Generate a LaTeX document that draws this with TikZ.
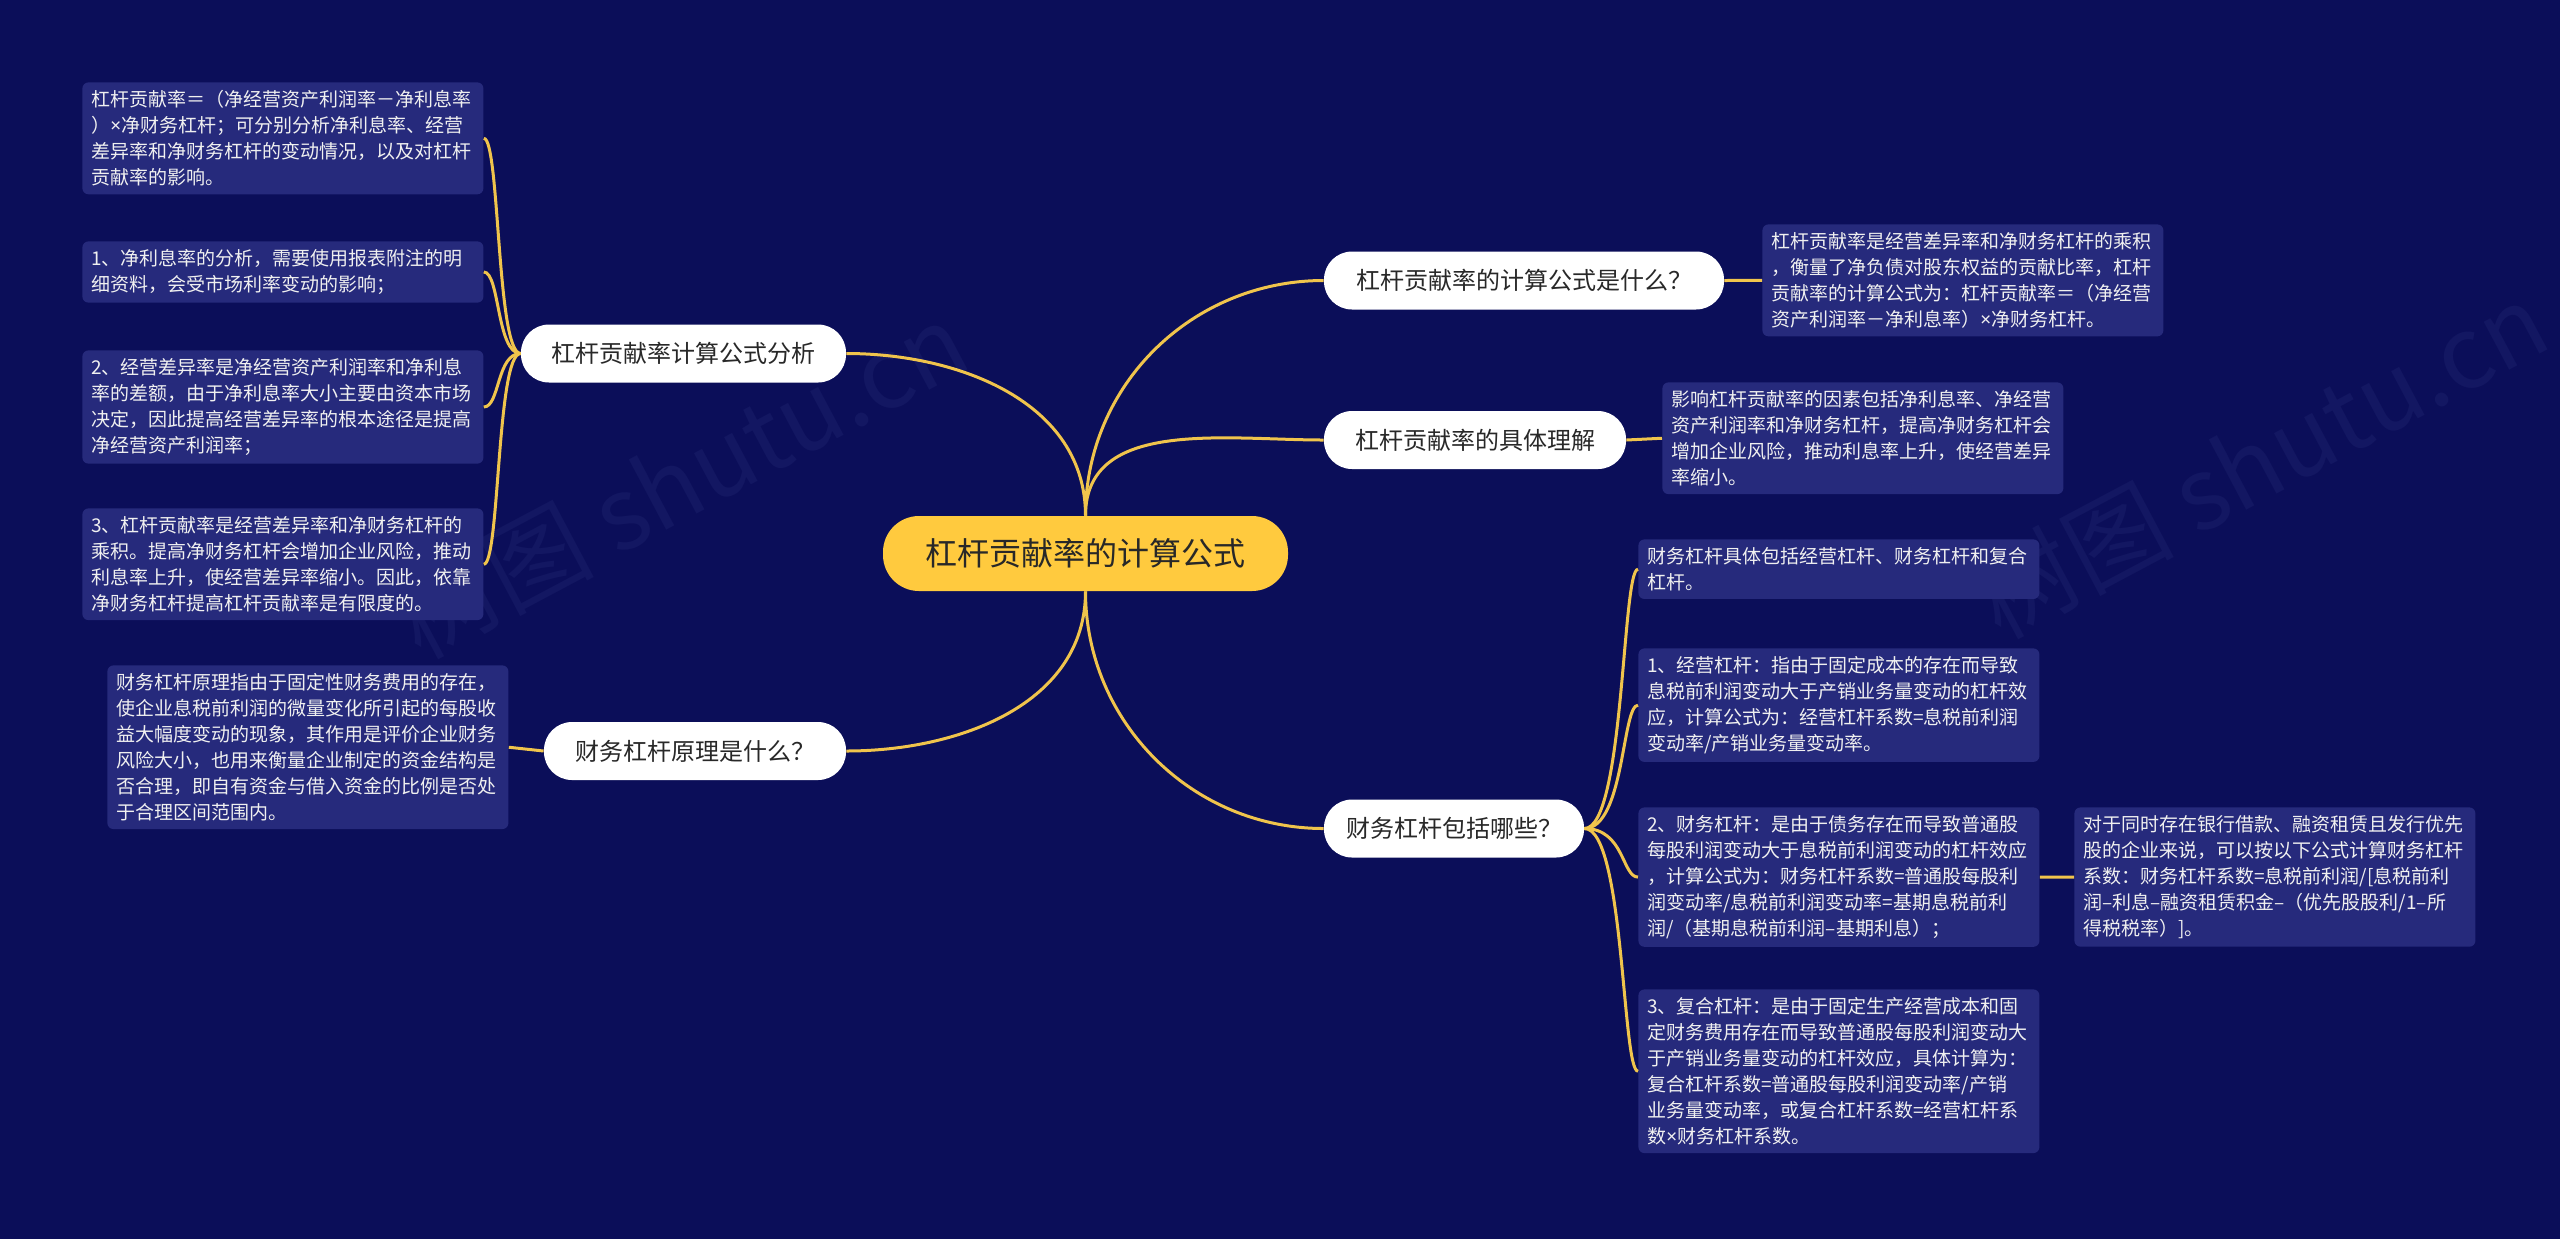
\documentclass[tikz,border=0pt]{standalone}
\usepackage{fontspec}
\setmainfont{Noto Sans CJK SC}
\newfontfamily\latinnarrow{Noto Sans}
\newcommand{\xtimes}{{\latinnarrow ×}}
\definecolor{bgc}{RGB}{11,14,89}
\definecolor{leafc}{RGB}{38,42,124}
\definecolor{linec}{RGB}{240,196,76}
\definecolor{goldc}{RGB}{255,202,62}
\definecolor{wmc}{RGB}{19,23,98}
\definecolor{darkt}{RGB}{40,40,40}
\tikzset{
  leaf/.style={anchor=north west, fill=leafc, rounded corners=3pt, text=white!94!black,
    text width=191.5pt, inner xsep=4.5pt, inner ysep=4pt, align=left,
    font=\fontsize{9.5}{13}\selectfont},
  branch/.style={fill=white, rounded corners=14pt, text=darkt, minimum height=29pt,
    inner sep=0pt, font=\fontsize{12}{14}\selectfont},
  centre/.style={fill=goldc, rounded corners=18pt, text=darkt, minimum height=37.5pt,
    minimum width=202.5pt, inner sep=0pt, font=\fontsize{16}{18}\selectfont},
  conn/.style={draw=linec, line width=1.5pt},
  wm/.style={text=wmc, font=\fontsize{50}{50}\selectfont, rotate=28}
}
\begin{document}
\begin{tikzpicture}[x=0.5pt,y=-0.5pt]
\fill[bgc] (0,0) rectangle (2560,1239);
\useasboundingbox (0,0) rectangle (2560,1239);
% watermarks
\node[wm] (wm1) at (680,480) {树图 shutu.cn};
\node[wm] (wm2) at (2260,460) {树图 shutu.cn};
% centre
\node[centre] (c) at (1085.5,553.5) {杠杆贡献率的计算公式};
% branches
\node[branch, minimum width=200pt] (b1) at (1524,280.5) {杠杆贡献率的计算公式是什么？};
\node[branch, minimum width=151pt] (b2) at (1475,440) {杠杆贡献率的具体理解};
\node[branch, minimum width=130pt] (b3) at (1454,828.5) {财务杠杆包括哪些？};
\node[branch, minimum width=162.5pt] (l1) at (683.5,353.5) {杠杆贡献率计算公式分析};
\node[branch, minimum width=151pt] (l2) at (695,751) {财务杠杆原理是什么？};
% left leaves
\node[leaf] (la) at (82,82) {杠杆贡献率＝（净经营资产利润率－净利息率\\）\xtimes 净财务杠杆；可分别分析净利息率、经营\\差异率和净财务杠杆的变动情况，以及对杠杆\\贡献率的影响。};
\node[leaf] (lb) at (82,241) {1、净利息率的分析，需要使用报表附注的明\\细资料，会受市场利率变动的影响；};
\node[leaf] (lc) at (82,350) {2、经营差异率是净经营资产利润率和净利息\\率的差额，由于净利息率大小主要由资本市场\\决定，因此提高经营差异率的根本途径是提高\\净经营资产利润率；};
\node[leaf] (ld) at (82,508) {3、杠杆贡献率是经营差异率和净财务杠杆的\\乘积。提高净财务杠杆会增加企业风险，推动\\利息率上升，使经营差异率缩小。因此，依靠\\净财务杠杆提高杠杆贡献率是有限度的。};
\node[leaf] (le) at (107,665) {财务杠杆原理指由于固定性财务费用的存在，\\使企业息税前利润的微量变化所引起的每股收\\益大幅度变动的现象，其作用是评价企业财务\\风险大小，也用来衡量企业制定的资金结构是\\否合理，即自有资金与借入资金的比例是否处\\于合理区间范围内。};
% right leaves
\node[leaf] (ra) at (1762,224) {杠杆贡献率是经营差异率和净财务杠杆的乘积\\，衡量了净负债对股东权益的贡献比率，杠杆\\贡献率的计算公式为：杠杆贡献率＝（净经营\\资产利润率－净利息率）\xtimes 净财务杠杆。};
\node[leaf] (rb) at (1662,382) {影响杠杆贡献率的因素包括净利息率、净经营\\资产利润率和净财务杠杆，提高净财务杠杆会\\增加企业风险，推动利息率上升，使经营差异\\率缩小。};
\node[leaf] (rc) at (1638,539) {财务杠杆具体包括经营杠杆、财务杠杆和复合\\杠杆。};
\node[leaf] (rd) at (1638,648) {1、经营杠杆：指由于固定成本的存在而导致\\息税前利润变动大于产销业务量变动的杠杆效\\应，计算公式为：经营杠杆系数=息税前利润\\变动率/产销业务量变动率。};
\node[leaf] (re) at (1638,807) {2、财务杠杆：是由于债务存在而导致普通股\\每股利润变动大于息税前利润变动的杠杆效应\\，计算公式为：财务杠杆系数=普通股每股利\\润变动率/息税前利润变动率=基期息税前利\\润/（基期息税前利润–基期利息）；};
\node[leaf] (rf) at (1638,989) {3、复合杠杆：是由于固定生产经营成本和固\\定财务费用存在而导致普通股每股利润变动大\\于产销业务量变动的杠杆效应，具体计算为：\\复合杠杆系数=普通股每股利润变动率/产销\\业务量变动率，或复合杠杆系数=经营杠杆系\\数\xtimes 财务杠杆系数。};
\node[leaf] (rg) at (2074,807) {对于同时存在银行借款、融资租赁且发行优先\\股的企业来说，可以按以下公式计算财务杠杆\\系数：财务杠杆系数=息税前利润/[息税前利\\润–利息–融资租赁积金–（优先股股利/1–所\\得税税率）]。};
% connectors from centre
\draw[conn] (c.north) to[out=90,in=180] (b1.west);
\draw[conn] (c.north) to[out=90,in=180] (b2.west);
\draw[conn] (c.south) to[out=-90,in=180] (b3.west);
\draw[conn] (c.north) to[out=90,in=0] (l1.east);
\draw[conn] (c.south) to[out=-90,in=0] (l2.east);
% straight connectors
\draw[conn] (b1.east) -- (ra.west);
\draw[conn] (b2.east) -- (rb.west);
\draw[conn] (l2.west) -- (le.east);
\draw[conn] (re.east) -- (rg.west);
% bracket connectors
\foreach \t in {la,lb,lc,ld}{
  \draw[conn] (l1.west) .. controls ([xshift=-12pt]l1.west) and ([xshift=8pt]\t.east) .. (\t.east);
}
\foreach \t in {rc,rd,re,rf}{
  \draw[conn] (b3.east) .. controls ([xshift=20pt]b3.east) and ([xshift=-8pt]\t.west) .. (\t.west);
}
\end{tikzpicture}
\end{document}
